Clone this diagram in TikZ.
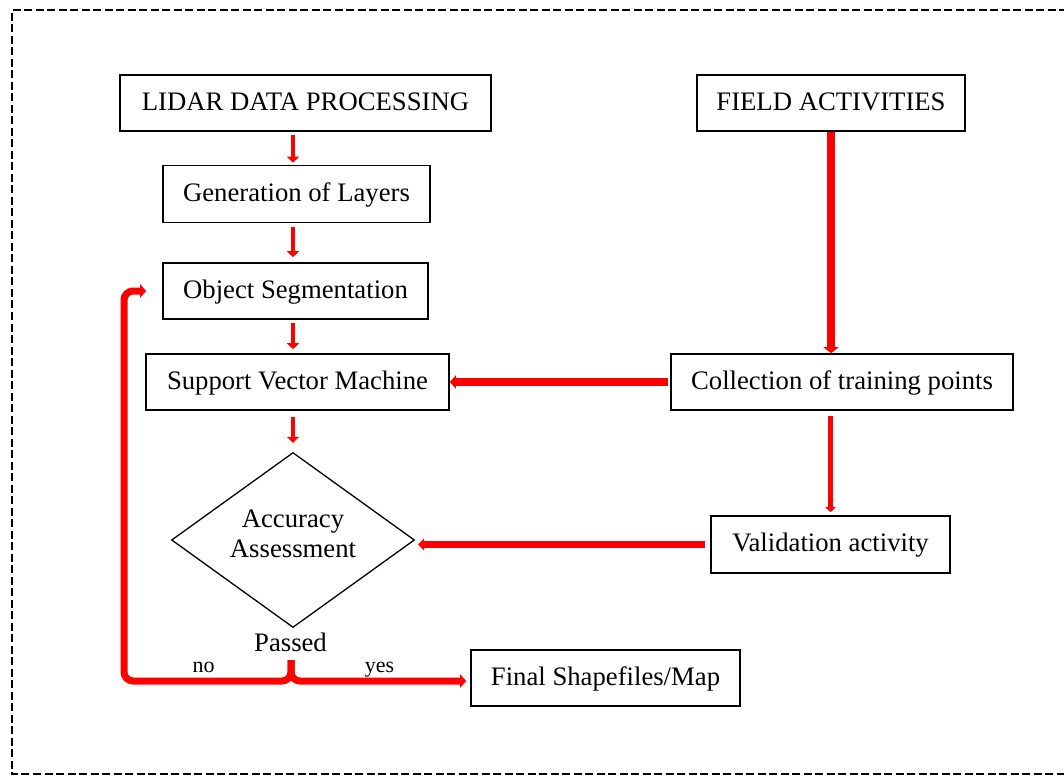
\documentclass[tikz,border=0pt]{standalone}
\usepackage{fontspec}
\setmainfont{Liberation Serif}
\usetikzlibrary{arrows.meta,shapes.geometric}
\newcommand{\mainsize}{\fontsize{26.7}{30}\selectfont}
\newcommand{\labelsize}{\fontsize{22}{26}\selectfont}
\begin{document}
\begin{tikzpicture}[x=1pt,y=-1pt,
  box/.style={draw=black, line width=1.6pt, inner sep=0pt, minimum height=56pt,
              text height=14.6pt, text depth=0pt, font=\mainsize},
  decision/.style={draw=black, line width=1.3pt, shape=diamond, inner sep=0pt,
              minimum width=243pt, minimum height=175pt},
  flow/.style={draw=red, line width=#1},
  thinflow/.style={flow=4.5pt, -{Triangle[width=12pt,length=6pt]}},
  wideflow/.style={flow=7.5pt, -{Triangle[width=15pt,length=6pt]}},
  midflow/.style={flow=5pt, -{Triangle[width=10pt,length=5pt]}},
  branchflow/.style={flow=7pt, rounded corners=9pt, -{Triangle[width=13pt,length=6pt]}},
  border/.style={draw=black, line width=2pt, dash pattern=on 8pt off 3.5pt}
]
\useasboundingbox (0,0) rectangle (1064,775);

% outer dashed frame
\draw[border] (1090,10) -- (12,10) -- (12,774) -- (1090,774);

% process boxes
\node[box, minimum width=371pt] (lidar) at (305.5,103) {LIDAR DATA PROCESSING};
\node[box, minimum width=268pt] (field) at (831,103) {FIELD ACTIVITIES};
\node[box, minimum width=267pt, minimum height=57pt] (gen) at (296.5,194) {Generation of Layers};
\node[box, minimum width=265pt] (obj) at (295.5,291) {Object Segmentation};
\node[box, minimum width=303pt] (svm) at (297.5,382) {Support Vector Machine};
\node[box, minimum width=342pt] (coll) at (842,382) {Collection of training points};
\node[box, minimum width=239pt, minimum height=57pt] (valid) at (830.5,544.5) {Validation activity};
\node[box, minimum width=269pt] (final) at (605.5,678) {Final Shapefiles/Map};

% decision
\node[decision] (acc) at (293,540) {};
\node[font=\mainsize, align=center, inner sep=0pt] (acctext) at (293,534) {Accuracy\\Assessment};
\node[font=\mainsize, text height=18pt, text depth=0pt, inner sep=9pt] (passed) at (290.5,642) {Passed};

% left column flow
\draw[thinflow, shorten <=3pt, shorten >=2pt] (lidar.south -| acc.north) -- (gen.north -| acc.north);
\draw[thinflow, shorten <=4pt, shorten >=5pt] (gen.south -| acc.north) -- (obj.north -| acc.north);
\draw[thinflow, shorten <=3pt, shorten >=4pt] (obj.south -| acc.north) -- (svm.north -| acc.north);
\draw[thinflow, shorten <=6pt, shorten >=9pt] (svm.south -| acc.north) -- (acc.north);

% right column flow
\draw[wideflow] (field.south) -- (coll.north -| field.south);
\draw[midflow, shorten <=5pt, shorten >=3pt] (coll.south -| valid.north) -- (valid.north);
\draw[flow=8pt, -{Triangle[width=13pt,length=6pt]}, shorten <=2pt] (coll.west) -- (svm.east);
\draw[flow=7pt, -{Triangle[width=12pt,length=6pt]}, shorten <=5pt, shorten >=3pt]
  (valid.west) -- (valid.west -| acc.east);

% pass / fail branches
\coordinate (split) at (291,681);
\coordinate (bend) at (124,681);
\draw[branchflow, shorten >=16pt] (split |- passed.south) -- (split) -- (bend) -- (bend |- obj.west) -- (obj.west);
\draw[branchflow, shorten >=4pt] (split |- passed.south) -- (split) -- (split -| final.west);
\node[font=\labelsize, anchor=base, inner sep=0pt] (no) at (203.5,672) {no};
\node[font=\labelsize, anchor=base, inner sep=0pt] (yes) at (379.5,672) {yes};
\end{tikzpicture}
\end{document}
